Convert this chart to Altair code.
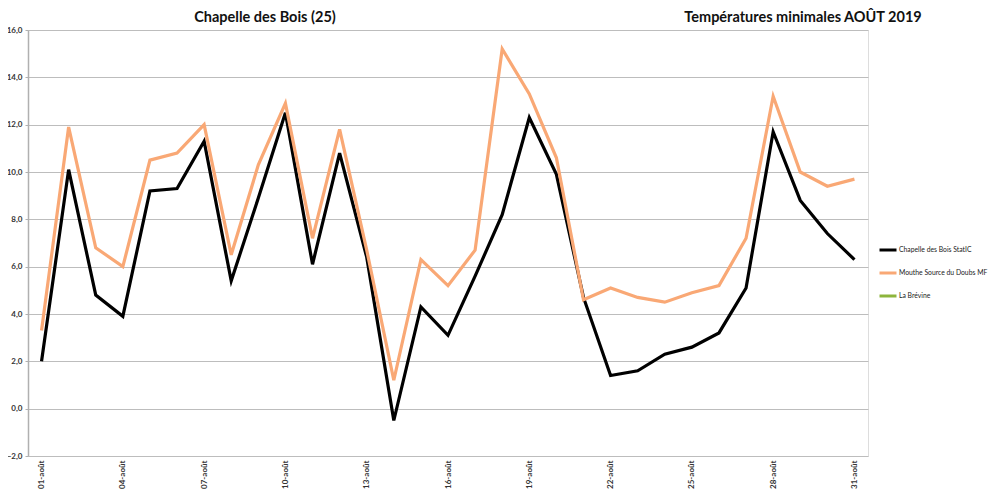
import altair as alt
import pandas as pd

days = [f"{d:02d}-août" for d in range(1, 32)]
chapelle = [2.0, 10.1, 4.8, 3.9, 9.2, 9.3, 11.3, 5.4, 8.9, 12.5,
            6.1, 10.8, 6.4, -0.5, 4.3, 3.1, 5.6, 8.2, 12.3, 9.9,
            4.7, 1.4, 1.6, 2.3, 2.6, 3.2, 5.1, 11.7, 8.8, 7.4, 6.3]
mouthe = [3.3, 11.9, 6.8, 6.0, 10.5, 10.8, 12.0, 6.5, 10.3, 12.9,
          7.2, 11.8, 6.7, 1.2, 6.3, 5.2, 6.7, 15.2, 13.3, 10.6,
          4.6, 5.1, 4.7, 4.5, 4.9, 5.2, 7.2, 13.2, 10.0, 9.4, 9.7]
series_names = ["Chapelle des Bois StatIC", "Mouthe Source du Doubs MF", "La Brévine"]
series_colors = ["#000000", "#F9A875", "#8DB53C"]
y_ticks = [-2, 0, 2, 4, 6, 8, 10, 12, 14, 16]
x_label_days = days[::3]
titles = ["Chapelle des Bois (25)", "Températures minimales AOÛT 2019"]

rows = []
for d, v in zip(days, chapelle):
    rows.append({"jour": d, "serie": series_names[0], "temp": v, "ordre": 0})
for d, v in zip(days, mouthe):
    rows.append({"jour": d, "serie": series_names[1], "temp": v, "ordre": 1})
df = pd.DataFrame(rows)

W, H = 840, 426

lines = alt.Chart(df).mark_line(strokeWidth=3.2, strokeJoin="miter").encode(
    x=alt.X("jour:O", sort=days,
            scale=alt.Scale(domain=days, padding=0.5),
            axis=alt.Axis(title=None, values=x_label_days, labelAngle=270,
                          labelAlign="right", labelBaseline="middle",
                          labelFont="Lato", labelFontWeight="bold",
                          labelFontSize=8, labelColor="#333333",
                          labelPadding=4, ticks=False, domain=False,
                          grid=False)),
    y=alt.Y("temp:Q",
            scale=alt.Scale(domain=[-2, 16], nice=False, zero=False),
            axis=alt.Axis(title=None, values=y_ticks,
                          labelExpr="replace(format(datum.value, '.1f'), '.', ',')",
                          labelFont="Lato", labelFontWeight="bold",
                          labelFontSize=8, labelColor="#333333",
                          labelPadding=3, tickSize=3, tickColor="#b0b0b0",
                          domainColor="#b0b0b0", domainWidth=1.5,
                          gridColor="#bdbdbd", gridWidth=1.2)),
    color=alt.Color("serie:N",
                    scale=alt.Scale(domain=series_names, range=series_colors),
                    legend=alt.Legend(title=None, orient="none",
                                      legendX=850, legendY=210,
                                      symbolType="stroke", symbolStrokeWidth=3,
                                      symbolSize=289, labelFont="Lato",
                                      labelFontSize=6.8, labelColor="#222222",
                                      labelOffset=1, rowPadding=7,
                                      labelLimit=200)),
    order=alt.Order("ordre:Q"),
    detail="serie:N",
)

tdf = pd.DataFrame({"t": titles, "i": [0, 1]})
t1 = alt.Chart(tdf).transform_filter("datum.i == 0").mark_text(
    font="Lato", fontWeight="bold", fontSize=14.5, color="#111111",
    baseline="middle", align="center").encode(
    text="t:N", x=alt.value(237), y=alt.value(-12))
t2 = alt.Chart(tdf).transform_filter("datum.i == 1").mark_text(
    font="Lato", fontWeight="bold", fontSize=14.5, color="#111111",
    baseline="middle", align="center").encode(
    text="t:N", x=alt.value(775), y=alt.value(-12))

chart = alt.layer(lines, t1, t2).properties(
    width=W, height=H,
    autosize=alt.AutoSizeParams(type="none"),
    padding={"left": 20, "top": 22, "right": 122, "bottom": 36},
).configure_view(stroke=None).configure(background="white")

chart.save("out.html", embed_options={"renderer": "svg", "actions": False})
